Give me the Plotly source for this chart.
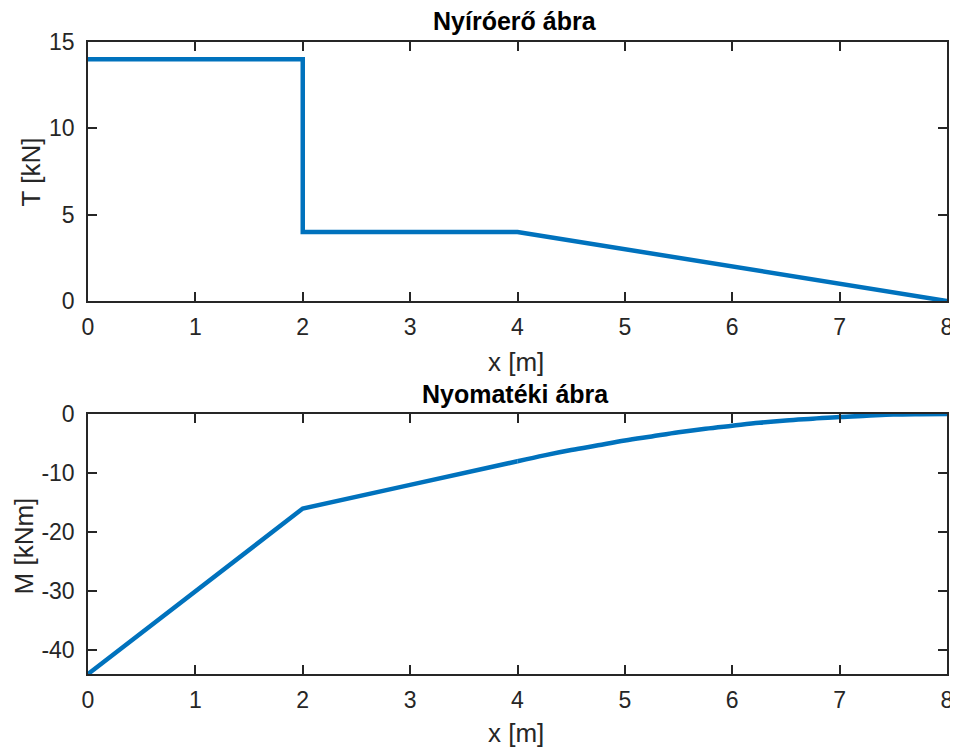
import plotly.graph_objects as go

# Shear force diagram data
x_T = [0, 2, 2, 4, 8]
T_vals = [14, 14, 4, 4, 0]

# Bending moment diagram data
x_M = [0, 2, 3, 4, 4.25, 4.5, 4.75, 5, 5.25, 5.5, 5.75, 6, 6.25, 6.5, 6.75, 7, 7.25, 7.5, 7.75, 8]
M_vals = [-44, -16, -12, -8, -7.0, -6.1, -5.3, -4.5, -3.8, -3.1, -2.5, -2, -1.5, -1.1, -0.8, -0.5, -0.3, -0.1, -0.03, 0]

x_ticks = [0, 1, 2, 3, 4, 5, 6, 7, 8]
T_ticks = [0, 5, 10, 15]
M_ticks = [-40, -30, -20, -10, 0]
M_ticklabels = ["-40", "-30", "-20", "-10", "0"]

LINE = "#0072BD"
AX = "#262626"
FONT = "Liberation Sans, Arial, Helvetica, sans-serif"

OFF = 8  # page body margin
W, H = 950, 739
L, R, T, B = 80, 5, 34, 73
ph = H - T - B

def dom(top_px, bot_px):
    top_px -= OFF
    bot_px -= OFF
    return [(H - B - bot_px) / ph, (H - B - top_px) / ph]

fig = go.Figure()
fig.add_trace(go.Scatter(x=x_T, y=T_vals, mode="lines",
                         line=dict(color=LINE, width=4.5), xaxis="x", yaxis="y",
                         showlegend=False))
# linear part of the moment diagram (0..4 m)
k = x_M.index(4)
fig.add_trace(go.Scatter(x=x_M[:k + 1], y=M_vals[:k + 1], mode="lines",
                         line=dict(color=LINE, width=4.5), xaxis="x2", yaxis="y2",
                         showlegend=False))
# curved part (4..8 m)
fig.add_trace(go.Scatter(x=x_M[k:], y=M_vals[k:], mode="lines",
                         line=dict(color=LINE, width=4.5, shape="spline", smoothing=1),
                         xaxis="x2", yaxis="y2", showlegend=False))

axcommon = dict(showline=True, linecolor=AX, linewidth=1.5, mirror="ticks",
                ticks="inside", ticklen=9, tickwidth=1.5, tickcolor=AX,
                showgrid=False, zeroline=False,
                tickfont=dict(family=FONT, size=23, color=AX))
xextra = dict(ticklabelstandoff=5)
yextra = dict(ticklabelstandoff=7)

d1 = dom(42, 301)
d2 = dom(414, 674)

fig.update_layout(
    width=W, height=H,
    margin=dict(l=L, r=R, t=T, b=B),
    plot_bgcolor="white", paper_bgcolor="white",
    xaxis=dict(domain=[0, 1], anchor="y", range=[0, 8], tickvals=x_ticks, **axcommon, **xextra),
    yaxis=dict(domain=d1, anchor="x", range=[0, 15], tickvals=T_ticks, **axcommon, **yextra),
    xaxis2=dict(domain=[0, 1], anchor="y2", range=[0, 8], tickvals=x_ticks, **axcommon, **xextra),
    yaxis2=dict(domain=d2, anchor="x2", range=[-44, 0], tickvals=M_ticks,
                ticktext=M_ticklabels, **axcommon, **yextra),
)

def ann(text, x, y, size=26, bold=False, angle=0):
    x -= OFF
    y -= OFF
    fig.add_annotation(text=f"<b>{text}</b>" if bold else text,
                       xref="paper", yref="paper",
                       x=(x - L) / (W - L - R), y=(H - B - y) / ph,
                       xanchor="center", yanchor="middle", showarrow=False,
                       textangle=angle,
                       font=dict(family=FONT, size=size, color="black" if bold else AX))

ann("Nyíróerő ábra", 518, 21, bold=True, size=25)
ann("Nyomatéki ábra", 518, 394, bold=True, size=25)
ann("x [m]", 519, 362)
ann("x [m]", 519, 733)
ann("T [kN]", 31, 172, angle=-90)
ann("M [kNm]", 24, 546, angle=-90)

fig.write_html("out.html")
